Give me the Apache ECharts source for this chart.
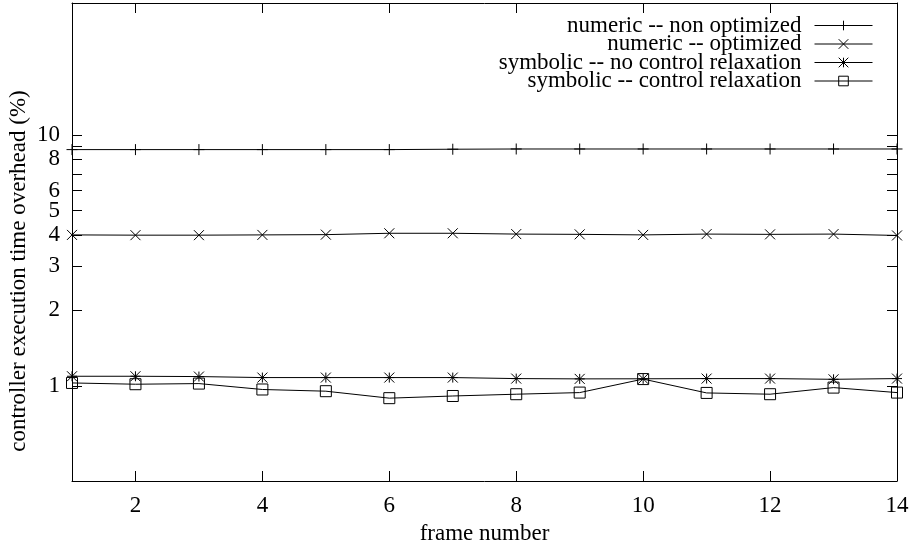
<!DOCTYPE html>
<html>
<head>
<meta charset="utf-8">
<script src="https://cdn.jsdelivr.net/npm/echarts@6/dist/echarts.min.js"></script>
<style>html,body{margin:0;padding:0;background:#fff}#c{width:913px;height:546px}</style>
</head>
<body>
<div id="c"></div>
<script>
var frames = [1,2,3,4,5,6,7,8,9,10,11,12,13,14];
var numericNonOptimized = [8.75,8.75,8.75,8.75,8.75,8.75,8.78,8.8,8.8,8.8,8.8,8.8,8.8,8.8];
var numericOptimized = [4.0,3.99,3.99,4.0,4.01,4.06,4.06,4.03,4.02,4.0,4.03,4.02,4.03,3.98];
var symbolicNoRelax = [1.093,1.093,1.09,1.08,1.08,1.08,1.08,1.07,1.067,1.068,1.07,1.07,1.063,1.07];
var symbolicRelax = [1.028,1.016,1.022,0.968,0.953,0.894,0.912,0.927,0.941,1.065,0.938,0.927,0.985,0.941];
var seriesNames = ['numeric -- non optimized','numeric -- optimized','symbolic -- no control relaxation','symbolic -- control relaxation'];
var xTickLabels = [2,4,6,8,10,12,14];
var yTickLabels = [1,2,3,4,5,6,8,10];
var yTicks = [1,2,3,4,5,6,7,8,9,10];

var FONT = 'Liberation Serif';
var FS = 23;
var symbols = [
  'path://M5,0 L5,10 M0,5 L10,5',
  'path://M0,0 L10,10 M10,0 L0,10',
  'path://M5,0 L5,10 M0,5 L10,5 M0,0 L10,10 M10,0 L0,10',
  'path://M0,0 L10,0 L10,10 L0,10 Z'
];
var symSizes = [11, 10, 10, 11];
var datasets = [numericNonOptimized, numericOptimized, symbolicNoRelax, symbolicRelax];

function mkSeries(i){
  return {
    name: seriesNames[i],
    type: 'line',
    xAxisIndex: 0, yAxisIndex: 0,
    data: frames.map(function(f,k){return [f, datasets[i][k]];}),
    symbol: symbols[i],
    symbolSize: symSizes[i],
    showAllSymbol: true,
    lineStyle: {color:'#000', width:1},
    itemStyle: {color:'rgba(0,0,0,0)', borderColor:'#000', borderWidth:1},
    emphasis: {disabled:true},
    silent: true
  };
}

var axisCommonLine = {show:true, lineStyle:{color:'#000', width:1}};
var chart = echarts.init(document.getElementById('c'), null, {renderer:'canvas'});
chart.setOption({
  animation: false,
  backgroundColor: '#fff',
  grid: {left:72, right:16, top:3, bottom:65, containLabel:false, outerBoundsMode:'none'},
  legend: {
    orient:'vertical', right:35, top:9, align:'right',
    itemWidth:58, itemHeight:12, itemGap:-4.5,
    selectedMode:false,
    itemStyle:{borderWidth:1},
    lineStyle:{width:1},
    textStyle:{fontFamily:FONT, fontSize:FS, color:'#000', padding:[0,8,0,0]},
    data: seriesNames
  },
  xAxis: [{
    type:'value', min:1, max:14, position:'bottom',
    name:'frame number', nameLocation:'middle', nameGap:41,
    nameTextStyle:{fontFamily:FONT, fontSize:FS, color:'#000'},
    axisLine: axisCommonLine,
    axisTick:{show:true, inside:true, length:10, customValues:xTickLabels, lineStyle:{color:'#000'}},
    axisLabel:{show:true, customValues:xTickLabels, margin:13, fontFamily:FONT, fontSize:FS, color:'#000'},
    splitLine:{show:false}
  },{
    type:'value', min:1, max:14, position:'top',
    axisLine: axisCommonLine,
    axisTick:{show:true, inside:true, length:10, customValues:xTickLabels, lineStyle:{color:'#000'}},
    axisLabel:{show:false},
    splitLine:{show:false}
  }],
  yAxis: [{
    type:'log', logBase:10, min:0.418, max:33.6, position:'left',
    axisLine: axisCommonLine,
    axisTick:{show:true, inside:true, length:10, customValues:yTicks, lineStyle:{color:'#000'}},
    axisLabel:{show:true, customValues:yTickLabels, margin:12, fontFamily:FONT, fontSize:FS, color:'#000'},
    splitLine:{show:false}, minorTick:{show:false}
  },{
    type:'log', logBase:10, min:0.418, max:33.6, position:'right',
    axisLine: axisCommonLine,
    axisTick:{show:true, inside:true, length:10, customValues:yTicks, lineStyle:{color:'#000'}},
    axisLabel:{show:false},
    splitLine:{show:false}, minorTick:{show:false}
  }],
  graphic: [{
    type:'text', x:19, y:271, rotation:Math.PI/2,
    style:{text:'controller execution time overhead (%)', fontFamily:FONT, fontSize:FS, fill:'#000', textAlign:'center', textVerticalAlign:'middle'}
  }],
  series: [mkSeries(0), mkSeries(1), mkSeries(2), mkSeries(3)]
});
</script>
</body>
</html>
